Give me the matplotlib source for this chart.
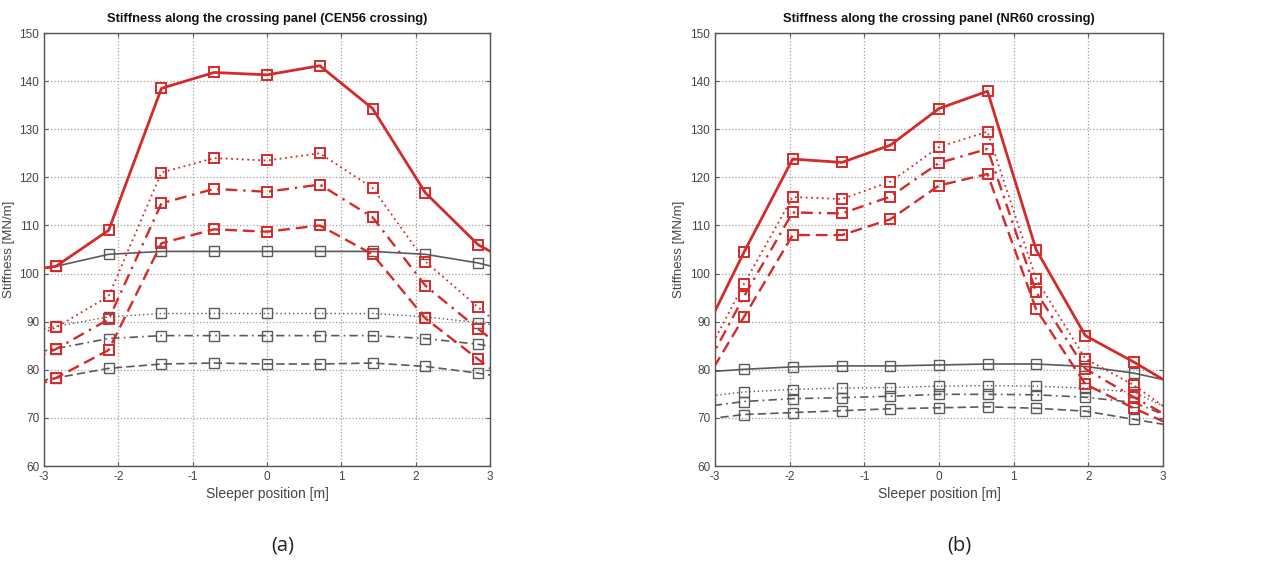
import matplotlib
matplotlib.use("Agg")
import matplotlib.pyplot as plt
import numpy as np

# ---------------- data ----------------
# (a) CEN56 crossing: sleeper positions (first/last points lie outside the visible range)
x_a = [-3.55, -2.84, -2.13, -1.42, -0.71, 0.0, 0.71, 1.42, 2.13, 2.84, 3.55]
red_solid_a   = [100.0, 101.5, 109.0, 138.5, 141.8, 141.3, 143.2, 134.3, 116.8, 106.0, 100.0]
red_dotted_a  = [84.0, 88.8, 95.3, 121.0, 124.0, 123.5, 125.0, 117.8, 102.5, 93.0, 84.0]
red_dashdot_a = [79.5, 84.3, 90.5, 114.6, 117.6, 117.0, 118.5, 111.7, 97.5, 88.5, 80.0]
red_dashed_a  = [74.0, 78.3, 84.1, 106.3, 109.2, 108.7, 110.0, 104.0, 90.7, 82.2, 74.0]
gray_solid_a   = [99.5, 101.5, 104.0, 104.6, 104.6, 104.6, 104.6, 104.6, 104.0, 102.2, 99.5]
gray_dotted_a  = [87.0, 89.0, 91.0, 91.7, 91.7, 91.7, 91.7, 91.7, 91.0, 89.8, 88.0]
gray_dashdot_a = [82.3, 84.4, 86.5, 87.1, 87.1, 87.1, 87.1, 87.1, 86.5, 85.3, 83.5]
gray_dashed_a  = [76.3, 78.3, 80.3, 81.2, 81.4, 81.2, 81.2, 81.4, 80.7, 79.3, 77.5]

# (b) NR60 crossing
x_b = [-3.26, -2.61, -1.96, -1.30, -0.65, 0.0, 0.65, 1.30, 1.96, 2.61, 3.26]
red_solid_b   = [84.0, 104.5, 123.8, 123.1, 126.7, 134.3, 137.9, 105.0, 87.1, 81.6, 75.6]
red_dotted_b  = [78.7, 97.9, 115.9, 115.5, 119.1, 126.3, 129.5, 98.9, 82.3, 76.8, 69.6]
red_dashdot_b = [76.5, 95.3, 112.7, 112.5, 116.0, 123.0, 125.9, 96.2, 80.2, 74.3, 68.7]
red_dashed_b  = [74.2, 91.0, 108.0, 108.0, 111.3, 118.3, 120.7, 92.6, 77.0, 72.0, 67.5]
gray_solid_b   = [79.4, 80.1, 80.6, 80.8, 80.8, 81.0, 81.2, 81.2, 80.7, 79.3, 77.1]
gray_dotted_b  = [74.2, 75.4, 75.9, 76.2, 76.3, 76.6, 76.7, 76.6, 76.2, 75.3, 70.6]
gray_dashdot_b = [72.1, 73.4, 74.0, 74.2, 74.5, 74.9, 74.9, 74.8, 74.3, 73.2, 69.1]
gray_dashed_b  = [69.5, 70.7, 71.1, 71.5, 71.9, 72.1, 72.3, 72.0, 71.4, 69.7, 68.0]

titles = ["Stiffness along the crossing panel (CEN56 crossing)",
          "Stiffness along the crossing panel (NR60 crossing)"]
panel_labels = ["(a)", "(b)"]
xticks = [-3, -2, -1, 0, 1, 2, 3]
yticks = [60, 70, 80, 90, 100, 110, 120, 130, 140, 150]

# ---------------- style ----------------
RED = "#d42a2a"
GRAY = "#5a5a5a"
TXT = "#444444"
plt.rcParams["font.family"] = ["Liberation Sans", "DejaVu Sans"]
plt.rcParams["axes.unicode_minus"] = False

fig = plt.figure(figsize=(12.85, 5.63), dpi=100)
axes = [fig.add_axes([44/1285, 97/563, 446/1285, 433/563]),
        fig.add_axes([715/1285, 97/563, 448/1285, 433/563])]
label_x = [0.535, 0.546]

datasets = [
    (x_a, [red_solid_a, red_dotted_a, red_dashdot_a, red_dashed_a],
          [gray_solid_a, gray_dotted_a, gray_dashdot_a, gray_dashed_a]),
    (x_b, [red_solid_b, red_dotted_b, red_dashdot_b, red_dashed_b],
          [gray_solid_b, gray_dotted_b, gray_dashdot_b, gray_dashed_b]),
]
styles = ["-", (0, (1, 2)), (0, (5, 2.5, 1, 2.5)), (0, (5, 2.5))]
red_lw = [2.0, 1.3, 1.7, 1.7]
gray_lw = [1.2, 1.0, 1.2, 1.2]

for ax, (xs, reds, grays), title, lab, lx in zip(axes, datasets, titles, panel_labels, label_x):
    for ys, ls, lw in zip(grays, styles, gray_lw):
        ax.plot(xs, ys, linestyle=ls, color=GRAY, lw=lw, marker="s", ms=7,
                mfc="none", mec=GRAY, mew=1.0, zorder=3)
    for ys, ls, lw in zip(reds, styles, red_lw):
        ax.plot(xs, ys, linestyle=ls, color=RED, lw=lw, marker="s", ms=7,
                mfc="none", mec=RED, mew=1.4, zorder=4)
    ax.set_xlim(-3, 3)
    ax.set_ylim(60, 150)
    ax.set_xticks(xticks)
    ax.set_yticks(yticks)
    ax.grid(True, linestyle=":", color="#a0a0a0", lw=0.9)
    ax.tick_params(direction="in", top=True, right=True, length=3,
                   labelsize=8.5, colors=GRAY, labelcolor=TXT)
    for sp in ax.spines.values():
        sp.set_color("#555555")
        sp.set_linewidth(1.0)
    ax.set_title(title, fontsize=9.3, fontweight="bold", color="#111111", pad=8)
    ax.set_xlabel("Sleeper position [m]", fontsize=10, color=TXT, labelpad=3)
    ax.set_ylabel("Stiffness [MN/m]", fontsize=9.5, color=TXT)
    ax.yaxis.set_label_coords(-0.066, 0.5)
    ax.text(lx, -0.183, lab, transform=ax.transAxes, ha="center", va="center",
            fontsize=14.5, color="#222222", family=["Open Sans", "DejaVu Sans"])

fig.savefig("out.png", dpi=100, facecolor="white")
